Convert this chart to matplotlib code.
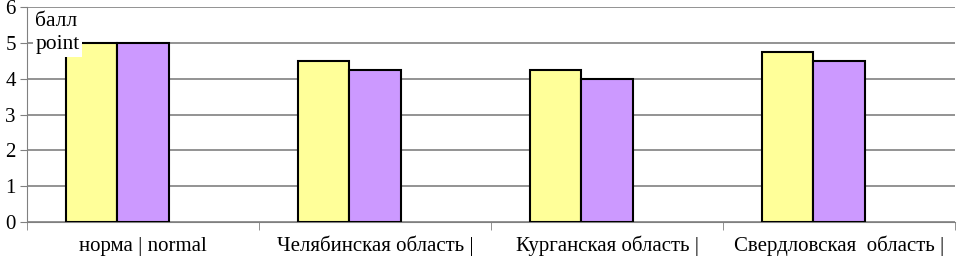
import numpy as np
import matplotlib
matplotlib.use('Agg')
from matplotlib import pyplot as plt

categories = ['норма | normal', 'Челябинская область |', 'Курганская область |', 'Свердловская  область |']
series1 = [5.0, 4.5, 4.25, 4.75]
series2 = [5.0, 4.25, 4.0, 4.5]

plt.rcParams['font.family'] = ['Liberation Serif', 'DejaVu Serif']

fig = plt.figure(figsize=(9.58, 2.59), dpi=100)
ax = fig.add_axes([27/958, 37/259, 928/958, 215/259])

x = np.arange(len(categories))
w = 0.22
ax.bar(x - w, series1, w, align='center', color='#FFFF99', edgecolor='black', linewidth=1.5, zorder=3)
ax.bar(x, series2, w, align='center', color='#CC99FF', edgecolor='black', linewidth=1.5, zorder=3)

ax.set_xlim(-0.5, 3.5)
ax.set_ylim(0, 6)
ax.set_yticks(range(7))
ax.yaxis.grid(True, color='#808080', linewidth=1.2, zorder=0)
ax.tick_params(axis='y', labelsize=15, length=5, pad=3, color='#808080')

ax.set_xticks(x)
ax.set_xticklabels(categories, fontsize=15)
ax.tick_params(axis='x', which='major', length=0, pad=21)
for lab in ax.get_xticklabels():
    lab.set_verticalalignment('baseline')
ax.set_xticks(np.arange(-0.5, 4, 1), minor=True)
ax.tick_params(axis='x', which='minor', length=6, color='#808080')

for s in ['top', 'right']:
    ax.spines[s].set_visible(False)
ax.spines['bottom'].set_color('#808080')
ax.spines['left'].set_color('#808080')

ax.text(0.009, 0.975, 'балл\npoint', transform=ax.transAxes, fontsize=15.5,
        va='top', ha='left', linespacing=1.25,
        bbox=dict(facecolor='white', edgecolor='none', pad=2), zorder=5)

fig.savefig('out.png', dpi=100)
